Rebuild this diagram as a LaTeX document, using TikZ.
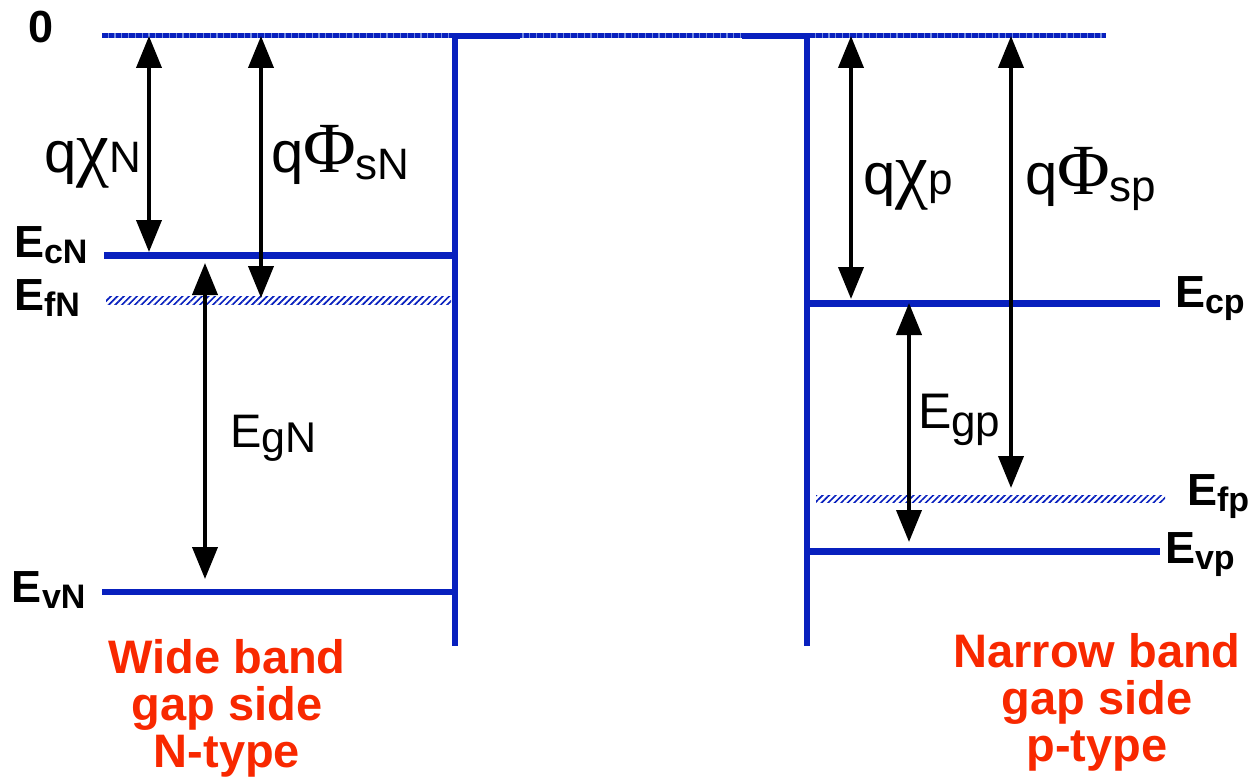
\documentclass[tikz,border=0pt]{standalone}
\usepackage{fontspec}
\setmainfont{Liberation Sans}
\newfontfamily\symf{Liberation Serif}
\usetikzlibrary{arrows.meta,patterns.meta}
\definecolor{bandblue}{RGB}{8,32,190}
\definecolor{lightblue}{RGB}{110,135,225}
\definecolor{labred}{RGB}{248,40,0}
\newcommand{\fs}[1]{\fontsize{#1}{#1}\selectfont}
\newcommand{\blab}[2]{{\fs{45}\bfseries #1\raisebox{-6pt}{\fs{34}#2}}}
\tikzset{
  band/.style={draw=bandblue, line width=6.5pt},
  barrier/.style={draw=bandblue, line width=6.5pt, line join=miter},
  fermi/.style={pattern={Lines[angle=45,distance=4.6pt,line width=1.7pt]}, pattern color=bandblue},
  gap/.style={line width=4pt, {Triangle[length=32pt,width=25pt]}-{Triangle[length=32pt,width=25pt]}},
  lab/.style={anchor=base west, inner sep=0pt, outer sep=0pt},
  red/.style={anchor=base, inner sep=0pt, text=labred, font=\fs{47}\bfseries}
}
\begin{document}
\begin{tikzpicture}[x=1pt,y=-1pt]
\useasboundingbox (0,0) rectangle (1255,778);
% vacuum level
\coordinate (vacL) at (102,35.5);
\coordinate (vacR) at (1106,35.5);
\draw[lightblue, line width=4.5pt] (vacL) -- (vacR);
\draw[bandblue, line width=4.5pt, dash pattern=on 5.5pt off 1.3pt] (vacL) -- (vacR);
% barriers
\coordinate (bLt) at (520,36);
\coordinate (bLc) at (455,36);
\coordinate (bLb) at (455,646);
\coordinate (bRt) at (742,36);
\coordinate (bRc) at (807,36);
\coordinate (bRb) at (807,646);
\draw[barrier] (bLt) -- (bLc) -- (bLb);
\draw[barrier] (bRt) -- (bRc) -- (bRb);
% bands left
\coordinate (EcNa) at (104,255.5);
\coordinate (EcNb) at (455,255.5);
\coordinate (EvNa) at (102,592);
\coordinate (EvNb) at (455,592);
\draw[band] (EcNa) -- (EcNb);
\draw[band] (EvNa) -- (EvNb);
\coordinate (EfNa) at (106,296.5);
\coordinate (EfNb) at (451,304);
\path[fermi] (EfNa) rectangle (EfNb);
% bands right
\coordinate (Ecpa) at (807,303.5);
\coordinate (Ecpb) at (1160,303.5);
\coordinate (Evpa) at (807,551.5);
\coordinate (Evpb) at (1160,551.5);
\draw[band] (Ecpa) -- (Ecpb);
\draw[band] (Evpa) -- (Evpb);
\coordinate (Efpa) at (816,495);
\coordinate (Efpb) at (1165,502.5);
\path[fermi] (Efpa) rectangle (Efpb);
% arrows
\coordinate (a1t) at (149,36);  \coordinate (a1b) at (149,252);
\coordinate (a2t) at (261,36);  \coordinate (a2b) at (261,298);
\coordinate (a3t) at (205,263); \coordinate (a3b) at (205,579);
\coordinate (a4t) at (851,36);  \coordinate (a4b) at (851,299);
\coordinate (a5t) at (1011,36); \coordinate (a5b) at (1011,488);
\coordinate (a6t) at (909,303); \coordinate (a6b) at (909,542);
\draw[gap] (a1t) -- (a1b);
\draw[gap] (a2t) -- (a2b);
\draw[gap] (a3t) -- (a3b);
\draw[gap] (a4t) -- (a4b);
\draw[gap] (a5t) -- (a5b);
\draw[gap] (a6t) -- (a6b);
% level labels
\node[lab] (zero) at (28,43) {\fs{45}\bfseries 0};
\node[lab] (lEcN) at (14,257) {\blab{E}{cN}};
\node[lab] (lEfN) at (14,310) {\blab{E}{fN}};
\node[lab] (lEvN) at (12,602) {\blab{E}{vN}};
\node[lab] (lEcp) at (1175,307) {\blab{E}{cp}};
\node[lab] (lEfp) at (1187,505) {\blab{E}{fp}};
\node[lab] (lEvp) at (1165,563) {\blab{E}{vp}};
% quantity labels
\node[lab] (qchiN) at (44,173) {\fs{58}q{\symf\fs{74}χ}\fs{44}N};
\node[lab] (qphiN) at (271,173) {\fs{58}q{\symf\fs{72}Φ}\raisebox{-7pt}{\fs{44}sN}};
\node[lab] (qchip) at (863,195) {\fs{58}q{\symf\fs{74}χ}\fs{44}p};
\node[lab] (qphip) at (1025,195) {\fs{58}q{\symf\fs{72}Φ}\raisebox{-7pt}{\fs{44}sp}};
\node[lab] (EgN) at (230,447) {\fs{47}E\raisebox{-5pt}{\fs{43}gN}};
\node[lab] (Egp) at (918,428) {\fs{50}E\raisebox{-8pt}{\fs{44}gp}};
% side captions
\node[red] (wl1) at (227,673) {Wide band};
\node[red] (wl2) at (227,720) {gap side};
\node[red] (wl3) at (227,767) {N-type};
\node[red] (nl1) at (1097,667) {Narrow band};
\node[red] (nl2) at (1097,714) {gap side};
\node[red] (nl3) at (1097,761) {p-type};
\end{tikzpicture}
\end{document}
